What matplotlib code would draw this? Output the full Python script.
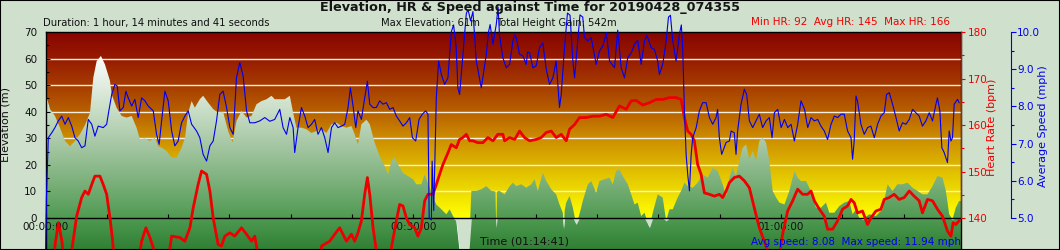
import numpy as np
import matplotlib
matplotlib.use('Agg')
import matplotlib.pyplot as plt
from matplotlib.colors import LinearSegmentedColormap
from matplotlib.patches import Polygon, Rectangle
from matplotlib.ticker import FixedLocator, FuncFormatter

plt.rcParams['font.family'] = ['DejaVu Sans']

duration = 74 + 41 / 60.0   # 01:14:41 in minutes

# elevation (m) against elapsed minutes
elev_t = [0.00, 0.37, 0.77, 1.18, 1.59, 2.00, 2.40, 2.81, 3.22, 3.63,
          3.90, 4.17, 4.52, 4.85, 5.26, 5.40, 5.80, 6.21, 6.62, 7.03,
          7.43, 7.70, 8.11, 8.52, 8.92, 9.19, 9.47, 9.88, 10.29, 10.69,
          11.10, 11.37, 11.64, 11.92, 12.18, 12.59, 12.86, 13.27, 13.68, 14.08,
          14.49, 14.90, 15.26, 15.58, 15.99, 16.40, 16.81, 17.21, 17.62, 18.03,
          18.44, 18.70, 19.11, 19.52, 19.93, 20.20, 20.47, 20.88, 21.29, 21.70,
          22.10, 22.51, 22.92, 23.33, 23.73, 24.14, 24.55, 24.96, 25.22, 25.49,
          25.77, 26.18, 26.45, 26.85, 27.26, 27.67, 27.94, 28.22, 28.48, 28.75,
          29.16, 29.57, 29.98, 30.25, 30.66, 30.93, 31.34, 31.61, 31.88, 32.29,
          32.70, 32.97, 33.24, 33.51, 33.78, 34.19, 34.54, 34.74, 35.14, 35.55,
          35.96, 36.37, 36.70, 36.77, 36.84, 37.04, 37.45, 37.86, 38.13, 38.40,
          38.81, 39.22, 39.63, 39.90, 40.16, 40.57, 40.85, 41.26, 41.66, 41.93,
          42.20, 42.28, 42.36, 42.48, 42.75, 43.02, 43.29, 43.56, 43.83, 44.24,
          44.52, 44.92, 45.19, 45.60, 46.01, 46.28, 46.55, 46.82, 47.09, 47.50,
          47.78, 48.05, 48.31, 48.59, 48.86, 49.27, 49.54, 49.94, 50.35, 50.63,
          50.90, 51.17, 51.57, 51.85, 52.12, 52.39, 52.80, 53.20, 53.61, 54.02,
          54.43, 54.83, 55.24, 55.52, 55.79, 56.06, 56.33, 56.60, 56.87, 57.15,
          57.42, 57.69, 57.96, 58.23, 58.50, 58.78, 59.05, 59.32, 59.60, 59.87,
          60.28, 60.68, 61.09, 61.36, 61.63, 62.04, 62.31, 62.58, 62.85, 63.26,
          63.67, 63.94, 64.35, 64.76, 65.16, 65.57, 65.84, 66.12, 66.38, 66.65,
          67.20, 67.74, 68.28, 68.69, 69.10, 69.50, 69.91, 70.32, 70.73, 71.13,
          71.54, 71.95, 72.36, 72.76, 73.17, 73.45, 73.72, 73.99, 74.26, 74.53,
          74.68]
elev_m = [47, 41, 38.4, 34, 29, 27, 29, 31.5, 35, 39.6,
          52.8, 59, 61, 57.8, 51.6, 46.5, 41.5, 38.4, 37.8, 38.4,
          34, 29.6, 30, 29, 30.2, 27, 26.5, 25.2, 22.7, 22.7,
          26.5, 30, 39.6, 44, 41.5, 44.7, 46, 43.4, 41, 39.6,
          40, 32.7, 28.4, 36.5, 40.3, 37.8, 38.4, 42.8, 44, 44.7,
          46, 44.7, 44.7, 44.7, 46, 39.6, 34, 34, 33.4, 32,
          32.7, 33.4, 32, 35.3, 35.9, 34.6, 34, 34.6, 31.5, 27.7,
          35.3, 37, 35.3, 28.4, 23.3, 19.6, 16.4, 21.5, 22.7, 20.2,
          17, 15.8, 14.6, 12.7, 12.7, 16.4, 11.4, 7.7, 5.1, 3.3,
          1.4, 3.3, 0.75, -1.1, -12.5, -13, -12.5, 10.2, 10.2, 10.8,
          12, 10.2, 10, -3.6, 10, 10.2, 8.9, 12, 13.3, 12,
          12.7, 11.4, 12.7, 14.6, 10.2, 17, 13.9, 10.8, 8.9, 5.1,
          2, -4, 3, 5.8, 8.3, 3.9, -2.4, 1.4, 6.4, 12.7,
          13.9, 9.5, 13.9, 14.6, 15.2, 12.7, 17.7, 18.3, 15.8, 12.7,
          8.9, 5.1, 5.8, 0.75, 2, -3.6, 2, 8.9, 7.7, -1.1,
          3.3, 3.3, 7.7, 10.2, 13.3, 12, 11.4, 13.3, 16.4, 15.2,
          18.9, 17.7, 12.7, 8.3, 15.2, 18.9, 15.8, 21.5, 26.5, 27.7,
          22.1, 25.2, 21.5, 29, 30.2, 28.4, 21.5, 10.2, 7.7, 5.8,
          5.1, 10.2, 17.7, 15.2, 13.9, 13.9, 11.4, 7.7, 3.9, 3.9,
          5.8, 2, 2, 4.5, 5.8, 6.4, 1.4, 3.3, 0, -0.5,
          1.4, 0.75, 3.3, 12.7, 10.2, 12.7, 12.7, 13.3, 11.4, 10.2,
          8.9, 8.9, 12, 15.8, 15.2, 10.2, 1.4, -0.5, 3.9, 6.4,
          6.4]

# heart rate (bpm)
hr_t = [0.00, 0.53, 0.82, 1.06, 1.34, 1.59, 2.00, 2.14, 2.54, 2.95,
        3.22, 3.49, 3.77, 4.03, 4.44, 4.71, 4.99, 5.26, 5.48, 5.75,
        6.89, 7.54, 7.84, 8.19, 8.52, 8.79, 9.09, 9.74, 10.29, 10.96,
        11.37, 11.78, 12.05, 12.45, 12.73, 13.14, 13.41, 13.68, 14.08, 14.36,
        14.63, 15.04, 15.44, 15.99, 16.40, 16.81, 17.07, 17.26, 17.64, 20.74,
        22.21, 22.53, 23.18, 23.59, 24.00, 24.27, 24.55, 24.96, 25.22, 25.49,
        25.77, 26.04, 26.26, 26.45, 26.72, 26.99, 27.26, 27.91, 28.22, 28.62,
        28.89, 29.16, 29.44, 29.71, 30.11, 30.38, 30.66, 30.93, 31.20, 31.61,
        31.88, 32.15, 32.42, 32.83, 33.10, 33.51, 33.78, 34.05, 34.33, 34.60,
        34.87, 35.27, 35.68, 36.09, 36.50, 36.90, 37.31, 37.45, 37.86, 38.27,
        38.67, 39.08, 39.49, 40.03, 40.44, 40.85, 41.26, 41.66, 42.07, 42.48,
        42.75, 43.16, 43.56, 44.11, 44.65, 45.19, 45.74, 46.28, 46.82, 47.37,
        47.78, 48.18, 48.72, 49.27, 49.81, 50.35, 50.90, 51.44, 51.85, 51.98,
        52.12, 52.39, 52.67, 52.93, 53.20, 53.48, 53.75, 54.16, 54.56, 54.97,
        55.24, 55.52, 55.79, 56.19, 56.60, 57.01, 57.42, 57.82, 58.23, 58.64,
        59.05, 59.46, 59.87, 60.13, 60.54, 60.95, 61.36, 61.76, 62.17, 62.45,
        62.72, 63.13, 63.53, 63.80, 64.21, 64.62, 65.02, 65.43, 65.71, 65.97,
        66.24, 66.65, 67.06, 67.33, 67.74, 68.15, 68.42, 68.83, 69.23, 69.64,
        70.05, 70.46, 70.86, 71.27, 71.54, 71.95, 72.36, 72.76, 73.17, 73.58,
        73.86, 74.04, 74.26, 74.53]
hr_bpm = [125, 128, 135, 139, 135, 128, 125, 133, 140.4, 144.4,
          145.8, 145.1, 147.2, 149, 149, 147.2, 145.1, 140, 135, 126,
          122, 130, 135, 137.9, 135.8, 133.6, 127, 126, 136.1, 135.8,
          135, 137.9, 142.2, 147.2, 150.1, 149.4, 145.8, 140, 134.3, 134,
          136.1, 136.8, 136.1, 137.9, 136.5, 135, 136.1, 133.2, 127, 124,
          128, 134, 135, 136.5, 137.9, 136.5, 135, 136.5, 135, 136.8,
          139.4, 145.1, 148.7, 145.1, 137.9, 133, 126, 126, 133.6, 139.4,
          142.9, 142.6, 140, 138.6, 137.9, 136.1, 137.9, 143.7, 145.1, 145.1,
          147.2, 149.4, 151.5, 154, 155.8, 155.1, 156.9, 157.3, 158, 156.6,
          156.6, 156.2, 156.2, 157.3, 156.6, 158, 158, 156.6, 157.3, 156.9,
          158.7, 157.3, 156.6, 156.9, 157.3, 158.4, 158.7, 157.3, 158, 156.6,
          159.1, 160.1, 161.6, 161.6, 161.9, 161.9, 162.3, 161.6, 164.1, 163.4,
          165.2, 165.3, 164.3, 164.8, 165.5, 165.5, 165.9, 165.9, 165.5, 163.7,
          161.6, 158.7, 158, 156.6, 151.5, 149.4, 145.4, 145.1, 144.7, 145.1,
          144.4, 145.8, 147.6, 148.7, 149, 148, 146.5, 142.2, 137.9, 135,
          132, 131, 132, 136.5, 141.5, 143.7, 146.2, 145.1, 145.1, 145.8,
          143.7, 141.9, 140.4, 137.6, 137.6, 139.4, 141.9, 142.6, 144, 143.3,
          141.1, 141.5, 138.6, 140, 141.5, 141.9, 144, 144.4, 145.1, 144,
          144.4, 145.8, 144.7, 143.7, 141.1, 144, 143.7, 141.9, 140.4, 137.2,
          136.1, 139, 138.6, 139.4]

# average speed (mph)
spd_t = [0.00, 0.07, 0.23, 0.51, 0.77, 1.04, 1.32, 1.59, 1.86, 2.14,
         2.40, 2.67, 2.95, 3.22, 3.49, 3.77, 4.03, 4.30, 4.71, 4.99,
         5.12, 5.40, 5.66, 5.85, 6.07, 6.34, 6.56, 6.75, 7.03, 7.29,
         7.56, 7.84, 8.11, 8.38, 8.79, 9.06, 9.27, 9.47, 9.74, 10.01,
         10.29, 10.55, 10.82, 11.10, 11.37, 11.64, 11.92, 12.32, 12.59, 12.86,
         13.14, 13.41, 13.68, 13.95, 14.22, 14.49, 14.77, 15.04, 15.31, 15.58,
         15.85, 16.12, 16.40, 16.67, 17.07, 17.48, 17.89, 18.30, 18.70, 19.11,
         19.38, 19.66, 19.93, 20.20, 20.33, 20.60, 20.88, 21.15, 21.42, 21.70,
         21.96, 22.23, 22.51, 22.78, 23.05, 23.33, 23.59, 23.86, 24.14, 24.41,
         24.68, 24.87, 25.09, 25.31, 25.49, 25.77, 26.04, 26.26, 26.45, 26.72,
         26.99, 27.26, 27.53, 27.81, 28.08, 28.35, 28.62, 28.89, 29.16, 29.44,
         29.71, 29.93, 30.20, 30.47, 30.74, 31.01, 31.20, 31.30, 31.48, 31.54,
         31.67, 31.88, 32.07, 32.29, 32.56, 32.83, 33.10, 33.29, 33.50, 33.64,
         33.78, 34.05, 34.33, 34.47, 34.68, 34.87, 35.14, 35.55, 35.96, 36.14,
         36.27, 36.50, 36.77, 36.92, 37.04, 37.31, 37.59, 37.86, 38.13, 38.27,
         38.40, 38.67, 38.94, 39.22, 39.32, 39.49, 39.76, 40.03, 40.30, 40.57,
         40.85, 41.12, 41.39, 41.66, 41.93, 42.07, 42.34, 42.58, 42.79, 43.02,
         43.16, 43.42, 43.60, 43.83, 43.97, 44.24, 44.52, 44.92, 45.19, 45.46,
         45.76, 46.01, 46.42, 46.68, 46.96, 47.23, 47.50, 47.78, 48.05, 48.31,
         48.59, 48.86, 49.06, 49.40, 49.67, 49.94, 50.08, 50.35, 50.63, 50.82,
         50.98, 51.17, 51.44, 51.71, 51.87, 51.98, 52.12, 52.26, 52.39, 52.53,
         52.67, 52.80, 53.08, 53.34, 53.61, 53.89, 54.16, 54.43, 54.70, 54.83,
         54.97, 55.16, 55.52, 55.79, 55.93, 56.19, 56.33, 56.46, 56.74, 57.01,
         57.20, 57.42, 57.69, 57.96, 58.23, 58.50, 58.78, 59.05, 59.27, 59.46,
         59.73, 60.01, 60.28, 60.55, 60.82, 61.09, 61.36, 61.63, 61.92, 62.18,
         62.45, 62.72, 62.99, 63.26, 63.53, 63.80, 64.08, 64.35, 64.62, 64.89,
         65.16, 65.43, 65.71, 65.84, 65.97, 66.12, 66.24, 66.52, 66.79, 67.06,
         67.33, 67.61, 67.88, 68.15, 68.42, 68.61, 68.83, 69.10, 69.38, 69.64,
         69.91, 70.19, 70.46, 70.73, 71.00, 71.27, 71.54, 71.82, 72.09, 72.36,
         72.64, 72.76, 72.96, 73.12, 73.31, 73.58, 73.72, 73.86, 73.99, 74.13,
         74.40, 74.53]
spd_mph = [4.0, 5.5, 7.16, 7.29, 7.43, 7.61, 7.74, 7.52, 7.70, 7.47,
           7.16, 7.07, 6.89, 6.94, 7.65, 7.52, 7.20, 7.47, 7.43, 7.52,
           7.79, 8.32, 8.59, 8.55, 7.88, 7.97, 8.41, 8.23, 8.01, 8.19,
           7.70, 8.23, 8.15, 8.01, 7.88, 7.25, 6.98, 7.61, 8.41, 8.15,
           7.34, 6.94, 7.07, 7.56, 7.74, 7.88, 7.52, 7.34, 7.16, 6.71,
           6.53, 6.94, 7.07, 7.61, 8.32, 8.41, 7.97, 7.43, 7.25, 8.77,
           9.18, 8.82, 7.88, 7.56, 7.56, 7.61, 7.70, 7.60, 7.65, 7.92,
           7.43, 7.25, 7.70, 7.43, 6.76, 7.43, 7.97, 7.74, 7.43, 7.52,
           7.65, 7.25, 7.43, 7.16, 6.76, 7.43, 7.56, 7.43, 7.47, 7.52,
           7.97, 8.50, 8.01, 7.43, 7.88, 7.65, 8.23, 8.68, 8.06, 7.97,
           7.97, 8.15, 8.06, 8.10, 7.92, 7.97, 7.74, 7.61, 7.47, 7.56,
           7.70, 7.16, 7.07, 7.65, 7.79, 7.88, 7.79, 5.0, 4.95, 6.53,
           5.2, 8.23, 9.22, 8.86, 8.59, 8.77, 10.0, 10.19, 9.6, 8.50,
           8.32, 9.40, 10.5, 10.6, 10.3, 10.55, 9.22, 8.50, 9.40, 10.0,
           10.2, 9.67, 10.2, 10.67, 9.9, 9.31, 9.04, 9.13, 9.76, 9.92,
           9.85, 9.40, 9.36, 9.13, 9.46, 9.44, 9.04, 9.09, 9.58, 9.71,
           9.00, 8.59, 8.77, 9.22, 7.97, 8.32, 9.58, 10.51, 10.45, 9.22,
           8.77, 9.76, 10.46, 10.4, 9.85, 9.76, 9.85, 9.13, 9.49, 9.62,
           9.98, 9.22, 9.04, 10.05, 9.04, 8.77, 9.31, 9.44, 9.67, 9.78,
           9.13, 9.76, 9.92, 9.58, 9.53, 9.22, 8.86, 9.13, 9.76, 10.4,
           10.45, 9.76, 9.22, 9.94, 10.19, 9.58, 7.88, 6.71, 6.17, 5.73,
           6.71, 7.16, 7.43, 7.88, 8.10, 8.10, 7.70, 7.52, 7.70, 7.92,
           7.16, 6.71, 7.03, 7.07, 7.34, 7.29, 6.71, 7.34, 8.06, 8.46,
           8.32, 7.61, 7.43, 7.61, 7.79, 7.43, 7.61, 7.70, 7.16, 7.83,
           7.92, 7.43, 7.65, 7.43, 7.52, 7.07, 7.52, 8.15, 7.92, 7.43,
           7.70, 7.61, 7.65, 7.47, 7.34, 7.11, 7.52, 7.74, 7.70, 7.79,
           7.79, 7.34, 7.16, 6.58, 7.07, 8.28, 8.15, 7.52, 7.25, 7.43,
           7.47, 7.16, 7.52, 7.74, 7.83, 8.32, 8.37, 8.06, 7.70, 7.34,
           7.56, 7.52, 7.65, 7.92, 7.83, 7.74, 7.47, 7.61, 7.83, 7.61,
           8.06, 8.23, 7.88, 6.89, 6.76, 6.49, 7.34, 7.07, 7.16, 8.06,
           8.19, 8.10]

elev_ticks = [0, 10, 20, 30, 40, 50, 60, 70]
hr_ticks = [140, 150, 160, 170, 180]
spd_ticks = [5.0, 6.0, 7.0, 8.0, 9.0, 10.0]
time_ticks = [0, 30, 60]

bg_col = '#cfe0cd'
red = '#ee0000'
blue = '#0000ee'

fig = plt.figure(figsize=(10.6, 2.5), dpi=100)
fig.patch.set_facecolor(bg_col)

ax = fig.add_axes([45.5 / 1060, 0, 915.5 / 1060, 218 / 250])
ax.set_axisbelow(False)
ylo = -12.04

# red -> yellow sky behind the profile
sky = LinearSegmentedColormap.from_list('sky', [
    (0.0, '#ffff00'), (0.14, '#eedc00'), (0.29, '#dcb400'), (0.43, '#cc8c00'),
    (0.57, '#b86000'), (0.71, '#a63c00'), (0.86, '#961a00'), (1.0, '#880400')])
grad = np.linspace(0, 1, 256).reshape(-1, 1)
ax.imshow(grad, cmap=sky, origin='lower', extent=[0, duration, 0, 70],
          aspect='auto', interpolation='bilinear', zorder=0)

ax.hlines([10, 20, 30, 40, 50, 60], 0, duration, colors='#f5efe0', lw=1, zorder=1)

# green gradient under the elevation profile
green = LinearSegmentedColormap.from_list('grn', [
    (0.0, '#2f7f34'), (0.16, '#4f9a52'), (0.36, '#7fb27e'), (0.56, '#abcaa9'),
    (0.76, '#d3e4d1'), (1.0, '#ffffff')])
gim = ax.imshow(grad, cmap=green, origin='lower', extent=[0, duration, ylo, 62],
                aspect='auto', interpolation='bilinear', zorder=2)
verts = [(elev_t[0], ylo)] + list(zip(elev_t, elev_m)) + [(elev_t[-1], ylo)]
clip = Polygon(verts, closed=True, transform=ax.transData, facecolor='none', edgecolor='none')
ax.add_patch(clip)
gim.set_clip_path(clip)

ax.fill_between(elev_t, np.minimum(elev_m, 0), 0, color=bg_col, lw=0, zorder=2.2)

ax.set_xlim(0, duration)
ax.set_ylim(ylo, 70)

for s in ax.spines.values():
    s.set_color('black')
    s.set_linewidth(1.0)
ax.spines['bottom'].set_position(('data', 0))

ax.xaxis.set_major_locator(FixedLocator(time_ticks))
ax.xaxis.set_minor_locator(FixedLocator(range(5, 75, 5)))
ax.xaxis.set_major_formatter(FuncFormatter(lambda m, p: '%02d:%02d:00' % (int(m // 60), int(m % 60))))
ax.tick_params(axis='x', which='both', direction='in', length=3, width=0.8, pad=3,
               labelsize=7.5, labelcolor='#111111')

ax.yaxis.set_major_locator(FixedLocator(elev_ticks))
ax.yaxis.set_minor_locator(FixedLocator([5, 15, 25, 35, 45, 55, 65]))
ax.tick_params(axis='y', which='major', direction='in', length=3, width=0.8, pad=6,
               labelsize=7.5, labelcolor='#111111')
ax.tick_params(axis='y', which='minor', direction='in', length=2.5, width=0.8)

# heart rate axis
ax2 = ax.twinx()
ax2.set_ylim(133.12, 180)
for k in ['left', 'top', 'bottom']:
    ax2.spines[k].set_visible(False)
ax2.spines['right'].set_color(red)
ax2.spines['right'].set_bounds(140, 180)
ax2.yaxis.set_major_locator(FixedLocator(hr_ticks))
ax2.yaxis.set_minor_locator(FixedLocator([145, 155, 165, 175]))
ax2.tick_params(axis='y', which='major', direction='out', length=3.2, width=0.8, color=red,
                labelcolor=red, labelsize=7.5, pad=1.5)
ax2.tick_params(axis='y', which='minor', direction='out', length=2, width=0.8, color=red)
ax2.plot(hr_t, hr_bpm, color=red, lw=2.0, zorder=5)

# speed axis
ax3 = ax.twinx()
ax3.set_ylim(4.14, 10.0)
for k in ['left', 'top', 'bottom']:
    ax3.spines[k].set_visible(False)
ax3.spines['right'].set_position(('axes', (1010.5 - 45.5) / 915.5))
ax3.spines['right'].set_color(blue)
ax3.spines['right'].set_bounds(5, 10)
ax3.yaxis.set_major_locator(FixedLocator(spd_ticks))
ax3.yaxis.set_minor_locator(FixedLocator([5.5, 6.5, 7.5, 8.5, 9.5]))
ax3.yaxis.set_major_formatter(FuncFormatter(lambda v, p: '%.1f' % v))
ax3.tick_params(axis='y', which='major', direction='out', length=3.6, width=0.8, color=blue,
                labelcolor=blue, labelsize=7.5, pad=1)
ax3.tick_params(axis='y', which='minor', direction='out', length=2.4, width=0.8, color=blue)
ax3.plot(spd_t, spd_mph, color=blue, lw=0.8, clip_on=False, zorder=6)


def px(x, y):
    return x / 1060.0, 1 - y / 250.0


fig.text(*px(530, 8), 'Elevation, HR & Speed against Time for 20190428_074355',
         ha='center', va='center', fontsize=9.2, fontweight='bold', color='#151515')
fig.text(*px(43, 23), 'Duration: 1 hour, 14 minutes and 41 seconds',
         ha='left', va='center', fontsize=7.2, color='#111111')
fig.text(*px(381, 23), 'Max Elevation: 61m', ha='left', va='center', fontsize=7.2, color='#111111')
fig.text(*px(496, 23), 'Total Height Gain: 542m', ha='left', va='center', fontsize=7.2, color='#111111')
fig.text(*px(751, 22), 'Min HR: 92  Avg HR: 145  Max HR: 166',
         ha='left', va='center', fontsize=7.5, color=red)
fig.text(*px(480, 242), 'Time (01:14:41)', ha='left', va='center', fontsize=8, color='#111111')
fig.text(*px(751, 242), 'Avg speed: 8.08  Max speed: 11.94 mph',
         ha='left', va='center', fontsize=7.5, color=blue)
fig.text(*px(6, 125), 'Elevation (m)', rotation=90, ha='center', va='center', fontsize=8,
         color='#111111')
fig.text(*px(992, 127), 'Heart Rate (bpm)', rotation=90, ha='center', va='center', fontsize=8,
         color=red)
fig.text(*px(1043, 126), 'Average Speed (mph)', rotation=90, ha='center', va='center', fontsize=8,
         color=blue)

fig.add_artist(Rectangle((0, 0), 1, 1, transform=fig.transFigure, fill=False,
                         edgecolor='black', lw=1.5))

fig.savefig('out.png', dpi=100, facecolor=fig.get_facecolor())
